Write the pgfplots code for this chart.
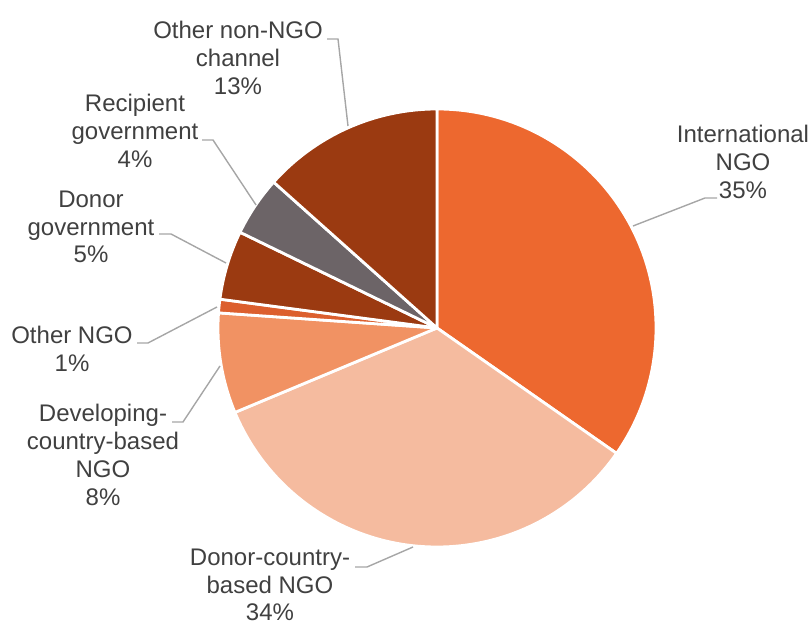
\documentclass[border=0pt]{standalone}
\usepackage{pgfplots}
\usepackage{pgfplotstable}
\pgfplotsset{compat=1.18}
\usepackage{fontspec}
\setmainfont{Liberation Sans}

\definecolor{slice0}{HTML}{ED682F}
\definecolor{slice1}{HTML}{F5BB9F}
\definecolor{slice2}{HTML}{F19263}
\definecolor{slice3}{HTML}{DC5F2E}
\definecolor{slice4}{HTML}{9B3A11}
\definecolor{slice5}{HTML}{6C6467}
\definecolor{slice6}{HTML}{9B3A11}
\definecolor{lbl}{HTML}{404040}
\definecolor{leader}{HTML}{A6A6A6}

% share of each channel (%), clockwise from 12 o'clock
\pgfplotstableread{
label value
IntlNGO 34.7
DonorCountryNGO 34.0
DevelopingNGO 7.4
OtherNGO 1.0
DonorGov 5.1
RecipientGov 4.4
OtherNonNGO 13.4
}\piedata

\begin{document}
\begin{tikzpicture}
\gdef\cum{0}
\foreach \i in {0,...,6}{%
  \pgfplotstablegetelem{\i}{value}\of\piedata
  \pgfmathsetmacro{\st}{90-3.6*\cum}%
  \pgfmathsetmacro{\newcum}{\cum+\pgfplotsretval}%
  \pgfmathsetmacro{\en}{90-3.6*\newcum}%
  \expandafter\xdef\csname sa\i\endcsname{\st}%
  \expandafter\xdef\csname ea\i\endcsname{\en}%
  \xdef\cum{\newcum}%
}
\begin{axis}[
  hide axis, scale only axis,
  x=0.5pt, y=0.5pt,
  xmin=0, xmax=812, ymin=0, ymax=624,
  clip=false,
]
\path (axis cs:0,0) rectangle (axis cs:812,624);
\pgfplotsinvokeforeach{0,...,6}{
  \filldraw[fill=slice#1, draw=white, line width=1.4pt, line join=round]
    (axis cs:437,296) -- ++(\csname sa#1\endcsname:109.5pt)
    arc[start angle=\csname sa#1\endcsname, end angle=\csname ea#1\endcsname, radius=109.5pt]
    -- cycle;
}
% leader lines
\draw[leader, line width=0.7pt] (axis cs:633,398) -- (axis cs:705,426) -- (axis cs:717,426);
\draw[leader, line width=0.7pt] (axis cs:348,498) -- (axis cs:338,585) -- (axis cs:327,585);
\draw[leader, line width=0.7pt] (axis cs:256,419) -- (axis cs:213,484) -- (axis cs:202,484);
\draw[leader, line width=0.7pt] (axis cs:226,361) -- (axis cs:171,390) -- (axis cs:159,390);
\draw[leader, line width=0.7pt] (axis cs:217,317) -- (axis cs:148,281) -- (axis cs:137,281);
\draw[leader, line width=0.7pt] (axis cs:220,258) -- (axis cs:183,202) -- (axis cs:172,202);
\draw[leader, line width=0.7pt] (axis cs:413,77) -- (axis cs:367,57) -- (axis cs:355,57);
% labels
\tikzset{lab/.style={text=lbl, align=center, inner sep=0pt,
  font=\fontsize{12pt}{13.9pt}\selectfont}}
\node[lab] at (axis cs:743,462) {International\\NGO\\35\%};
\node[lab] at (axis cs:238,566) {Other non-NGO\\channel\\13\%};
\node[lab] at (axis cs:135,493) {Recipient\\government\\4\%};
\node[lab] at (axis cs:91,397) {Donor\\government\\5\%};
\node[lab] at (axis cs:72,275) {Other NGO\\1\%};
\node[lab] at (axis cs:103,169) {Developing-\\country-based\\NGO\\8\%};
\node[lab] at (axis cs:270,39) {Donor-country-\\based NGO\\34\%};
\end{axis}
\end{tikzpicture}
\end{document}
